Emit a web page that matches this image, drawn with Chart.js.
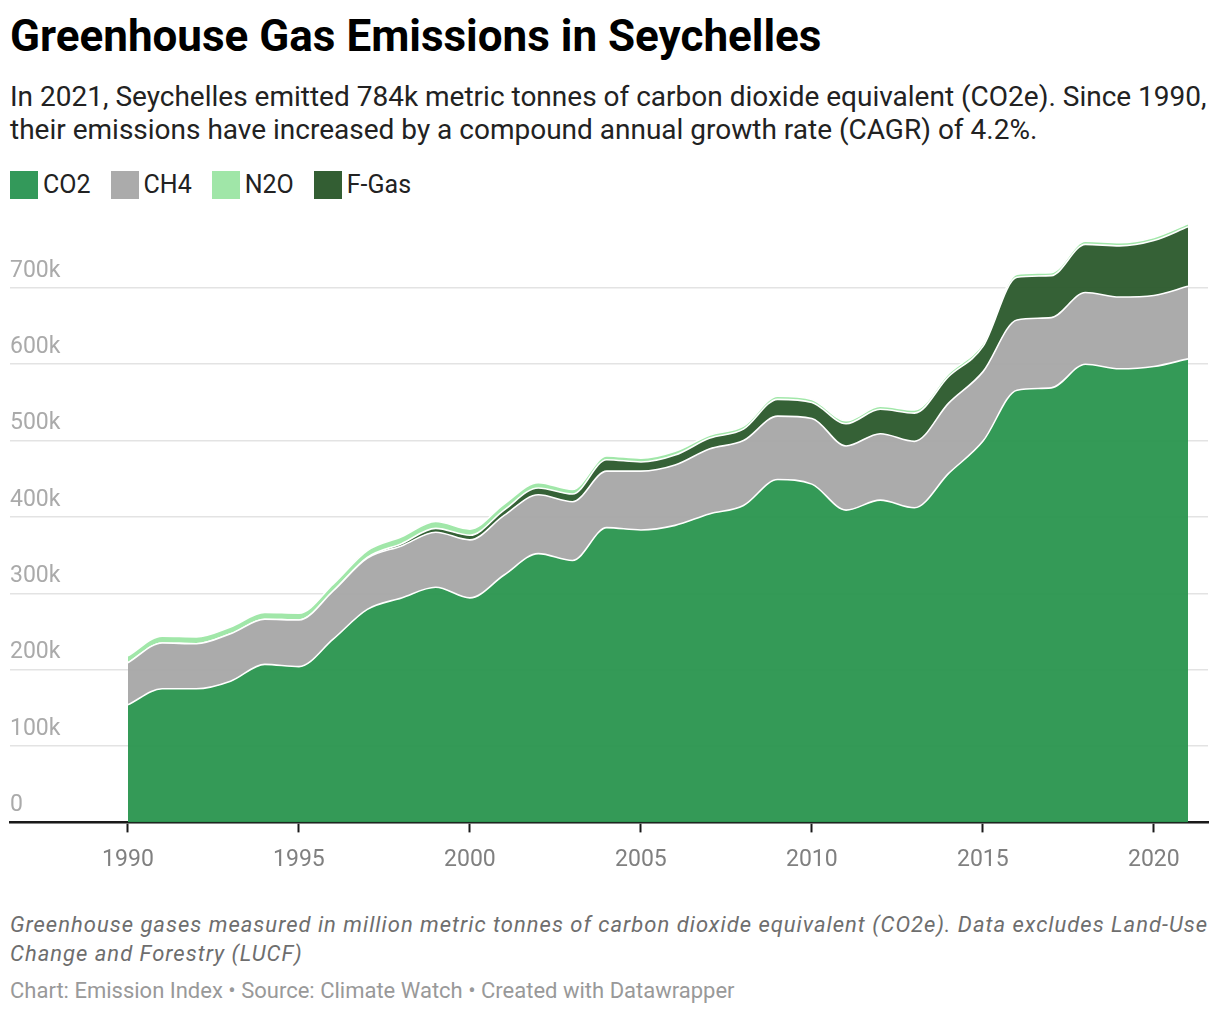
<!DOCTYPE html>
<html>
<head>
<meta charset="utf-8">
<script src="https://cdn.jsdelivr.net/npm/chart.js@4.4.1/dist/chart.umd.min.js"></script>
<style>
  html, body { margin: 0; padding: 0; background: #fff; }
  body { width: 1220px; height: 1014px; position: relative; font-family: Roboto, "Noto Sans", sans-serif; overflow: hidden; }
  #title { position: absolute; left: 10px; top: 10px; font-size: 44px; line-height: 52px; font-weight: 700; color: #000; white-space: nowrap; }
  #subtitle { position: absolute; left: 10px; top: 80px; font-size: 28px; line-height: 33px; color: #222; white-space: nowrap; }
  #legend { position: absolute; left: 10px; top: 171px; display: flex; gap: 20px; font-size: 25px; line-height: 28px; color: #222; }
  .item { display: flex; align-items: center; }
  .sw { width: 28px; height: 28px; margin-right: 5px; }
  #wrap { position: absolute; left: 0; top: 200px; width: 1220px; height: 698px; }
  #notes { position: absolute; left: 10px; top: 910px; font-size: 22px; line-height: 29px; letter-spacing: 1px; font-style: italic; color: #6e6e6e; white-space: nowrap; }
  #credit { position: absolute; left: 10px; top: 978px; font-size: 22px; line-height: 26px; color: #999; white-space: nowrap; }
</style>
</head>
<body>
<div id="title">Greenhouse Gas Emissions in Seychelles</div>
<div id="subtitle">In 2021, Seychelles emitted 784k metric tonnes of carbon dioxide equivalent (CO2e). Since 1990,<br>their emissions have increased by a compound annual growth rate (CAGR) of 4.2%.</div>
<div id="legend"></div>
<div id="wrap"><canvas id="c"></canvas></div>
<div id="notes">Greenhouse gases measured in million metric tonnes of carbon dioxide equivalent (CO2e). Data excludes Land-Use<br>Change and Forestry (LUCF)</div>
<div id="credit">Chart: Emission Index • Source: Climate Watch • Created with Datawrapper</div>
<script>
// ---- data (thousand tonnes CO2e) ----
const years = [1990,1991,1992,1993,1994,1995,1996,1997,1998,1999,2000,2001,2002,2003,2004,2005,2006,2007,2008,2009,2010,2011,2012,2013,2014,2015,2016,2017,2018,2019,2020,2021];
const co2  = [154,175,175,185,207,204,240,279,294,308,294,324,352,343,386,383,389,404,415,449,443,409,422,412,457,499,566,569,600,594,597,607];
const ch4  = [55,60,59,62,59,61,63,67,68,72,76,78,77,77,74,77,79,85,85,83,86,84,87,87,92,91,92,92,94,94,93,95];
const fgas = [0,0,0,0,0,0,0,1,3,5,6,7,9,10,15,12,13,14,15,22,21,29,32,37,35,33,56,55,63,67,72,78];
const n2o  = [9,9,9,9,9,9,9,9,9,9,8,8,7,6,5,5,5,4,4,4,4,4,4,4,4,4,4,4,4,4,4,4];
const legendNames = ["CO2","CH4","N2O","F-Gas"];
const legendColors = ["#33995a","#ababab","#a0e6a8","#335e33"];
const xTicks = [1990,1995,2000,2005,2010,2015,2020];
const yTicks = [0,100,200,300,400,500,600,700];

// legend
const lg = document.getElementById('legend');
legendNames.forEach((n,i)=>{
  const d = document.createElement('div'); d.className='item';
  d.innerHTML = '<span class="sw" style="background:'+legendColors[i]+'"></span><span>'+n+'</span>';
  lg.appendChild(d);
});

const toPts = arr => years.map((y,i)=>({x:y, y:arr[i]}));
const mk = (label, arr, color, fill) => ({
  label, data: toPts(arr), fill, backgroundColor: color,
  borderColor: '#ffffff', borderWidth: 1.6, pointRadius: 0, pointHoverRadius: 0,
  cubicInterpolationMode: 'monotone'
});

new Chart(document.getElementById('c'), {
  type: 'line',
  data: {
    datasets: [
      mk('CO2', co2, 'rgba(44,150,80,0.96)', 'origin'),
      mk('CH4', ch4, 'rgba(168,168,168,0.96)', '-1'),
      mk('F-Gas', fgas, 'rgba(46,92,47,0.97)', '-1'),
      mk('N2O', n2o, 'rgba(158,230,166,0.97)', '-1')
    ]
  },
  options: {
    responsive: true, maintainAspectRatio: false, animation: false,
    layout: { padding: { left: 10, right: 12, top: 10, bottom: 10 } },
    plugins: { legend: { display: false }, tooltip: { enabled: false } },
    scales: {
      x: {
        type: 'linear', min: 1986.55, max: 2021.585,
        afterBuildTicks: s => { s.ticks = xTicks.map(v=>({value:v})); },
        grid: { display: true, drawOnChartArea: false, drawTicks: true, tickLength: 10, tickColor: '#1a1a1a', tickWidth: 2 },
        border: { display: true, color: '#1a1a1a', width: 2.5 },
        ticks: { color: '#808080', font: { family: 'Roboto', size: 23 }, padding: 14, maxRotation: 0, callback: v => String(v) }
      },
      y: {
        stacked: true, min: 0, max: 797,
        afterBuildTicks: s => { s.ticks = yTicks.map(v=>({value:v})); },
        grid: { color: '#e3e3e3', lineWidth: 1.6, drawTicks: false },
        border: { display: false },
        ticks: { mirror: true, padding: 0, labelOffset: -17, color: '#aaaaaa', font: { family: 'Roboto', size: 23 },
                 callback: v => v === 0 ? '0' : v + 'k' }
      }
    }
  }
});
</script>
</body>
</html>
